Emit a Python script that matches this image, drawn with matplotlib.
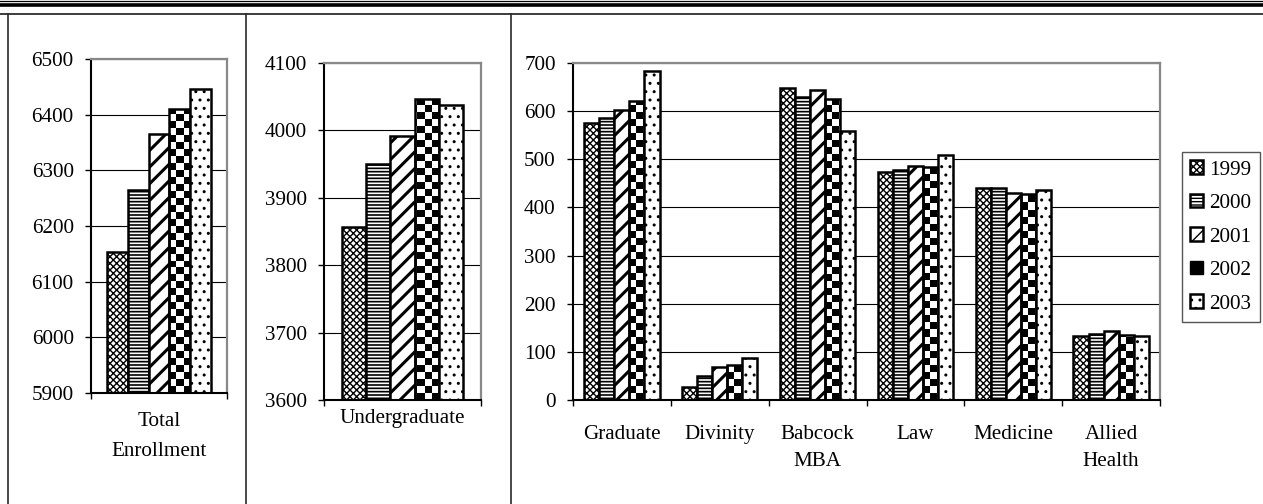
import numpy as np
import matplotlib.pyplot as plt
from matplotlib.lines import Line2D
from matplotlib.patches import Rectangle

plt.rcParams['font.family'] = ['Liberation Serif', 'DejaVu Serif']
plt.rcParams['font.size'] = 15.2

# data
years = ['1999', '2000', '2001', '2002', '2003']
total_enrollment = [6153, 6265, 6366, 6411, 6446]
undergraduate = [3856, 3950, 3992, 4046, 4037]
schools = ['Graduate', 'Divinity', 'Babcock\nMBA', 'Law', 'Medicine', 'Allied\nHealth']
y1999 = [575, 28, 648, 473, 441, 132]
y2000 = [585, 50, 630, 477, 440, 137]
y2001 = [603, 68, 643, 486, 429, 144]
y2002 = [622, 72, 625, 484, 428, 135]
y2003 = [684, 88, 559, 508, 436, 133]

hatches = ['xxxxx', '-----', '//', None, '..']
hatch_lw = [1.0, 1.2, 2.2, 1.0, 1.0]

W, H = 1263, 504
fig = plt.figure(figsize=(W / 100, H / 100), dpi=100)


def px_axes(left, top, right, bottom):
    return fig.add_axes([left / W, 1 - bottom / H, (right - left) / W, (bottom - top) / H])


def draw_panel(ax, cats, series, lo, hi, step, label_pad, spacing):
    n = len(series)
    width = 1 / (n + 1.5)
    x = np.arange(len(cats))
    groups = []
    for i, vals in enumerate(series):
        plt.rcParams['hatch.linewidth'] = hatch_lw[i]
        offs = (i - (n - 1) / 2) * width
        face = 'none' if hatches[i] is None else 'white'
        bars = ax.bar(x + offs, vals, width, facecolor=face, edgecolor='black',
                      linewidth=1.8, hatch=hatches[i], zorder=2)
        groups.append(bars)

    # checkerboard fill for 2002, clipped to each bar
    pos = ax.get_position()
    cols = int(round(pos.width * W / 7))
    rows = int(round(pos.height * H / 7))
    check = np.indices((rows, cols)).sum(axis=0) % 2
    for b in groups[3]:
        im = ax.imshow(check, cmap='gray', interpolation='nearest', aspect='auto',
                       extent=(0, 1, 0, 1), transform=ax.transAxes, zorder=1.9)
        im.set_clip_path(b)

    ax.set_xlim(-0.5, len(cats) - 0.5)
    ax.set_ylim(lo, hi)
    ax.set_yticks(np.arange(lo, hi + 1, step))
    ax.set_xticks(x)
    ax.set_xticklabels(cats)
    for t in ax.get_xticklabels():
        t.set_linespacing(spacing)
    ax.set_xticks(np.arange(len(cats) + 1) - 0.5, minor=True)
    ax.tick_params(axis='x', which='major', length=0, pad=label_pad)
    ax.tick_params(axis='x', which='minor', length=4.5, width=1, direction='out')
    ax.tick_params(axis='y', length=4.5, width=1, direction='out', pad=8)
    ax.yaxis.grid(True, color='black', linewidth=0.8)
    ax.set_axisbelow(True)
    for s in ['left', 'bottom']:
        ax.spines[s].set_color('black')
        ax.spines[s].set_linewidth(1.5)
    for s in ['top', 'right']:
        ax.spines[s].set_color('#888888')
        ax.spines[s].set_linewidth(1.6)
    return groups


ax1 = px_axes(91, 59, 227, 393)
draw_panel(ax1, ['Total\nEnrollment'], [[v] for v in total_enrollment], 5900, 6500, 100, 13.5, 1.8)

ax2 = px_axes(324, 63, 481, 400)
draw_panel(ax2, ['Undergraduate'], [[v] for v in undergraduate], 3600, 4100, 100, 6.5, 1.2)

ax3 = px_axes(573, 63, 1160, 400)
groups = draw_panel(ax3, schools, [y1999, y2000, y2001, y2002, y2003], 0, 700, 100, 18, 1.55)

handles = [groups[0][0], groups[1][0], groups[2][0],
           Rectangle((0, 0), 1, 1, facecolor='black', edgecolor='black'),
           groups[4][0]]
fig.legend(handles, years, loc='upper left', bbox_to_anchor=(1182 / W, 1 - 152 / H),
           fancybox=False, edgecolor='#555555', framealpha=1, borderpad=0.4,
           handlelength=0.6, handleheight=0.6, handletextpad=0.3,
           labelspacing=0.68, borderaxespad=0)

# page rules and panel borders
fig.add_artist(Line2D([0, 1], [1 - 0.6 / H] * 2, transform=fig.transFigure, color='black', lw=0.9))
fig.add_artist(Line2D([0, 1], [1 - 4.5 / H] * 2, transform=fig.transFigure, color='black', lw=2.6))
fig.add_artist(Line2D([0, 1], [1 - 14 / H] * 2, transform=fig.transFigure, color='#3c3c3c', lw=1.4))
for xp in [8, 246, 511]:
    fig.add_artist(Line2D([xp / W] * 2, [0, 1 - 14 / H], transform=fig.transFigure,
                          color='#2a2a2a', lw=1.2))

fig.savefig('out.png', dpi=100)
